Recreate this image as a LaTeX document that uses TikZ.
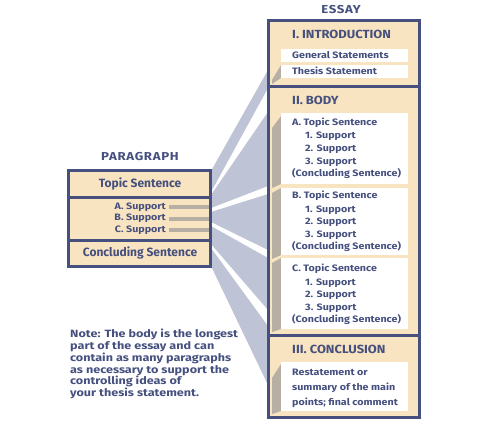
\documentclass[tikz,border=0pt]{standalone}
\usepackage{fontspec}
\setmainfont{Fira Sans}
\newfontfamily\wideA[FakeStretch=1.15]{Fira Sans}
\newfontfamily\wideB[FakeStretch=1.2]{Fira Sans}
\newfontfamily\wideT[FakeStretch=1.1]{Fira Sans}
\newfontfamily\wideH[FakeStretch=1.15,LetterSpace=6]{Fira Sans}
\definecolor{navy}{HTML}{45507F}
\definecolor{beige}{HTML}{F9E4C1}
\definecolor{fanc}{HTML}{BEC3D5}
\definecolor{taupe}{HTML}{B8AFA4}
\begin{document}
\begin{tikzpicture}[x=1pt,y=-1pt,
  sect/.style={draw=navy,line width=3pt,fill=beige,inner sep=0pt,outer sep=0pt},
  wbox/.style={fill=white,inner sep=0pt,outer sep=0pt,minimum width=127pt},
  txt/.style={text=navy,font=\wideA\bfseries\fontsize{9.3}{11}\selectfont,inner sep=0pt,anchor=mid west},
  ttl/.style={text=navy,font=\wideT\bfseries\fontsize{11.8}{14}\selectfont,inner sep=0pt,anchor=mid west},
  ptx/.style={text=navy,font=\bfseries\fontsize{12}{14}\selectfont,inner sep=0pt},
  head/.style={text=navy,font=\wideH\bfseries\fontsize{11.5}{13}\selectfont,inner sep=0pt},
  fanband/.style={fill=fanc},
  shade/.style={fill=taupe},
  bar/.style={fill=taupe}]
\useasboundingbox (0,0) rectangle (500,424);

% fan bands
\fill[fanband] (211,171) -- (268,70) -- (268,88) -- (211,192) -- cycle;
\fill[fanband] (211,195) -- (268,112) -- (268,186) -- (211,208) -- cycle;
\fill[fanband] (211,212) -- (268,194) -- (268,250) -- (211,222) -- cycle;
\fill[fanband] (211,226) -- (268,258) -- (268,310) -- (211,244) -- cycle;
\fill[fanband] (211,248) -- (268,326) -- (268,385) -- (211,266) -- cycle;

% headings
\node[head] (essayh) at (341,10) {ESSAY};
\node[head] (parah) at (140,157) {PARAGRAPH};

% paragraph
\node[sect,minimum width=142pt,minimum height=27pt] (ptopic) at (139,183.5) {};
\node[sect,minimum width=142pt,minimum height=43pt] (psup) at (139,218.5) {};
\node[sect,minimum width=142pt,minimum height=26pt] (pconc) at (139,253) {};
\node[ptx] (ptopict) at (140,184) {Topic Sentence};
\node[ptx] (pconct) at (140,253) {Concluding Sentence};
\fill[bar] (169,205) rectangle (209,209);
\fill[bar] (169,216.5) rectangle (209,220.5);
\fill[bar] (169,228) rectangle (209,232);
\node[txt,anchor=mid east] (sa) at (166,206.5) {A. Support};
\node[txt,anchor=mid east] (sb) at (166,218) {B. Support};
\node[txt,anchor=mid east] (sc) at (166,229.5) {C. Support};

% essay sections
\node[sect,minimum width=151pt,minimum height=66pt] (intro) at (343.5,53) {};
\node[sect,minimum width=151pt,minimum height=249pt] (body) at (343.5,210.5) {};
\node[sect,minimum width=151pt,minimum height=82pt] (concl) at (343.5,376) {};

% shadows
\fill[shade] (281,65) -- (281,78) -- (272,84) -- (272,80) -- cycle;
\fill[shade] (281,116) -- (281,184) -- (272,188) -- (272,128) -- cycle;
\fill[shade] (281,188) -- (281,255) -- (272,259) -- (272,193) -- cycle;
\fill[shade] (281,258) -- (281,329) -- (272,332) -- (272,263) -- cycle;
\fill[shade] (281,364) -- (281,411) -- (272,414) -- (272,378) -- cycle;

% white boxes
\node[wbox,minimum height=13pt] (gen) at (344.5,55.5) {};
\node[wbox,minimum height=13pt] (thes) at (344.5,71.5) {};
\node[wbox,minimum height=71pt] (ba) at (344.5,148.5) {};
\node[wbox,minimum height=67pt] (bb) at (344.5,221.5) {};
\node[wbox,minimum height=71pt] (bc) at (344.5,293.5) {};
\node[wbox,minimum height=49pt] (cc) at (344.5,386.5) {};

% intro text
\node[ttl] (introt) at (292,36) {I. INTRODUCTION};
\node[txt] (gent) at (292,56) {General Statements};
\node[txt] (thest) at (292,71.5) {Thesis Statement};

% body text
\node[ttl] (bodyt) at (292,102) {II. BODY};
\node[txt] (a0) at (292,123) {A. Topic Sentence};
\node[txt] (a1) at (305,136) {1. Support};
\node[txt] (a2) at (305,149) {2. Support};
\node[txt] (a3) at (305,161.5) {3. Support};
\node[txt] (a4) at (292,174) {(Concluding Sentence)};
\node[txt] (b0) at (292,196) {B. Topic Sentence};
\node[txt] (b1) at (305,210) {1. Support};
\node[txt] (b2) at (305,222) {2. Support};
\node[txt] (b3) at (305,234.5) {3. Support};
\node[txt] (b4) at (292,246.5) {(Concluding Sentence)};
\node[txt] (c0) at (292,268.5) {C. Topic Sentence};
\node[txt] (c1) at (305,283) {1. Support};
\node[txt] (c2) at (305,295) {2. Support};
\node[txt] (c3) at (305,307.5) {3. Support};
\node[txt] (c4) at (292,320) {(Concluding Sentence)};

% conclusion text
\node[ttl] (conclt) at (292,351) {III. CONCLUSION};
\node[txt] (r1) at (292,372.5) {Restatement or};
\node[txt] (r2) at (292,387.5) {summary of the main};
\node[txt] (r3) at (292,402.5) {points; final comment};

% note
\node[text=navy,font=\wideB\bfseries\fontsize{10.5}{11.8}\selectfont,inner sep=0pt,anchor=north west,align=left] (note) at (70,329)
{Note: The body is the longest\\part of the essay and can\\contain as many paragraphs\\as necessary to support the\\controlling ideas of\\your thesis statement.};
\end{tikzpicture}
\end{document}
